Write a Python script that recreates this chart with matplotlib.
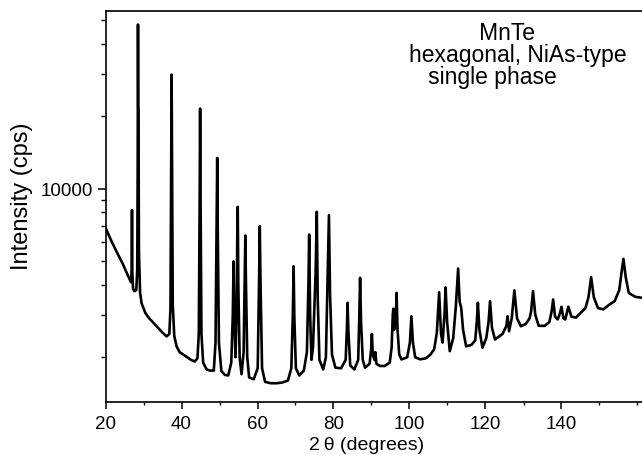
import matplotlib
matplotlib.use("Agg")
import matplotlib.pyplot as plt
from matplotlib import ticker

plt.rcParams['font.family'] = ['Liberation Sans', 'DejaVu Sans']

# ---- data (2-theta in degrees, intensity in cps) ----
two_theta = [
    20.0, 21.5, 23.0, 24.5, 25.8, 26.70, 26.88, 26.97, 27.06, 27.25, 27.6,
    28.1, 28.35, 28.47, 28.55, 28.62, 28.68, 28.8, 29.1, 29.5,
    30.5, 31.5, 32.6, 33.8, 35.0, 36.1, 36.8, 37.1, 37.3, 37.4, 37.5, 37.7, 38.1, 38.7,
    39.5, 40.5, 41.5, 42.5, 43.5, 44.2, 44.55, 44.78, 44.9, 45.02, 45.25, 45.7, 46.6,
    47.5, 48.5, 48.95, 49.25, 49.4, 49.55, 49.85, 50.5, 51.4,
    52.3, 53.1, 53.5, 53.7, 53.9, 54.2, 54.5, 54.7, 54.8, 54.95, 55.3, 55.8,
    56.35, 56.65, 56.8, 56.95, 57.3, 57.8, 59.0, 60.05, 60.4, 60.6, 60.8, 61.2, 62.0,
    63.5, 65.0, 66.5, 68.0, 68.9, 69.3, 69.5, 69.7, 70.1, 71.0, 72.2,
    73.0, 73.4, 73.6, 73.85, 74.2, 74.6, 75.3, 75.6, 75.85, 76.3, 77.3,
    78.0, 78.5, 78.8, 79.1, 79.6, 80.5,
    82.0, 83.2, 83.55, 83.7, 83.9, 84.4, 85.5, 86.5, 86.8, 87.0, 87.25, 87.7, 88.3,
    89.5, 89.9, 90.1, 90.35, 90.8, 91.0, 91.3, 92.2, 93.5, 94.8, 95.3, 95.6, 95.75,
    95.95, 96.4, 96.6, 96.85, 97.3, 97.9, 99.4, 100.1, 100.5, 100.9, 101.5,
    102.8, 104.3, 105.5, 106.5, 107.2, 107.8, 108.3, 108.7, 109.2, 109.5, 109.9,
    110.6, 111.5, 112.2, 112.8, 113.2, 113.6, 114.1, 114.9,
    116.3, 117.3, 117.7, 118.0, 118.4, 119.2, 120.2, 120.8, 121.2, 121.7, 122.5,
    124.5, 125.5, 125.8, 126.2, 126.9, 127.6, 128.3, 129.3,
    130.6, 131.6, 132.0, 132.5, 133.1, 134.0, 135.6, 136.8, 137.4, 137.8, 138.3,
    139.0, 139.6, 140.0, 140.5, 141.0, 141.8, 142.6, 143.8,
    145.0, 146.3, 147.1, 147.8, 148.5, 149.6, 151.0, 152.5, 154.0, 155.2, 155.8,
    156.3, 156.9, 157.7, 158.4, 159.5, 161.2,
]
intensity = [
    6900, 6100, 5450, 4900, 4400, 4100, 4600, 8150, 4500, 3850, 3760,
    3800, 4600, 12000, 48100, 22000, 21000, 5500, 3700, 3350,
    3050, 2900, 2780, 2650, 2530, 2440, 2500, 3200, 14000, 29800, 14000, 3300, 2450, 2220,
    2100, 2050, 2000, 1950, 1920, 1980, 2500, 9000, 21550, 9000, 2500, 1900, 1780,
    1760, 1760, 2300, 7000, 13440, 6500, 2300, 1750, 1690,
    1680, 1900, 3000, 5000, 3000, 2000, 3000, 7000, 8420, 4000, 2000, 1700,
    2100, 4500, 6400, 4200, 2000, 1650, 1620, 1800, 4000, 7000, 4000, 1800, 1580,
    1560, 1560, 1570, 1600, 1800, 3000, 4770, 2900, 1800, 1680, 1760,
    2100, 4000, 6460, 3000, 1950, 2200, 4500, 8030, 3500, 1950, 1780,
    2000, 4600, 7770, 3600, 2050, 1810,
    1800, 1950, 2700, 3365, 2600, 1850, 1780, 1950, 3000, 4270, 2800, 1950, 1810,
    1880, 2150, 2500, 2050, 1950, 2100, 1880, 1840, 1840, 1900, 2200, 3000, 3180,
    2600, 2900, 3700, 2600, 2050, 1958, 2000, 2300, 2960, 2300, 2000,
    1960, 1980, 2050, 2160, 2530, 3720, 2500, 2300, 3000, 3900, 2800,
    2120, 2400, 3260, 4670, 3400, 3210, 2600, 2220,
    2250, 2350, 2800, 3365, 2600, 2190, 2400, 2800, 3420, 2650, 2370,
    2500, 2700, 2960, 2565, 2900, 3790, 2900, 2690,
    2750, 2900, 3100, 3760, 3000, 2700, 2700, 2800, 3100, 3475, 2950,
    2870, 3050, 3240, 2900, 2870, 3240, 2950, 2920,
    3050, 3200, 3550, 4300, 3550, 3200, 3160, 3300, 3420, 3800, 4500,
    5120, 4300, 3700, 3640, 3560, 3530,
]

x_major_ticks = [20, 40, 60, 80, 100, 120, 140]
y_major_ticks = [10000]
annotation_lines = ["MnTe", "hexagonal, NiAs-type", "single phase"]

W, H = 642, 456
fig = plt.figure(figsize=(W / 100, H / 100), dpi=100)
left, right, top, bottom = 105.5, 642, 11.7, 403.3
ax = fig.add_axes([left / W, 1 - bottom / H, (right - left) / W, (bottom - top) / H])

ax.plot(two_theta, intensity, color='black', lw=1.9)

ax.set_yscale('log')
ax.set_xlim(20, 20 + (right - left) / 3.8)
ax.set_ylim(1300, 54900)

ax.xaxis.set_major_locator(ticker.FixedLocator(x_major_ticks))
ax.xaxis.set_minor_locator(ticker.MultipleLocator(10))
ax.yaxis.set_major_locator(ticker.FixedLocator(y_major_ticks))
ax.yaxis.set_major_formatter(ticker.FormatStrFormatter('%d'))
ax.yaxis.set_minor_locator(ticker.LogLocator(base=10, subs=range(2, 10)))
ax.yaxis.set_minor_formatter(ticker.NullFormatter())

ax.tick_params(axis='x', which='major', direction='out', length=5, width=1.1, labelsize=13.5, pad=4)
ax.tick_params(axis='x', which='minor', direction='out', length=2.5, width=1.0)
ax.tick_params(axis='y', which='major', direction='out', length=6, width=1.1, labelsize=13.5, pad=3)
ax.tick_params(axis='y', which='minor', direction='out', length=3.5, width=1.0)

for side in ['left', 'bottom', 'top']:
    ax.spines[side].set_linewidth(1.2)
ax.spines['right'].set_visible(False)

ax.set_xlabel("2\u2009\u03b8 (degrees)", fontsize=14)
ax.set_ylabel("Intensity (cps)", fontsize=17)
ax.xaxis.set_label_coords((366.7 - left) / (right - left), (bottom - 437) / (bottom - top))
ax.yaxis.set_label_coords((33 - left) / (right - left), (bottom - 195.8) / (bottom - top))

# one text block; leading spaces reproduce the per-line indents of the reference
annotation = ("           " + annotation_lines[0] + "\n"
              + annotation_lines[1] + "\n"
              + "   " + annotation_lines[2])
fig.text(409 / W, 1 - 22 / H, annotation, fontsize=16.5, ha='left', va='top',
         multialignment='left', linespacing=0.95)

fig.savefig("out.png", dpi=100)
